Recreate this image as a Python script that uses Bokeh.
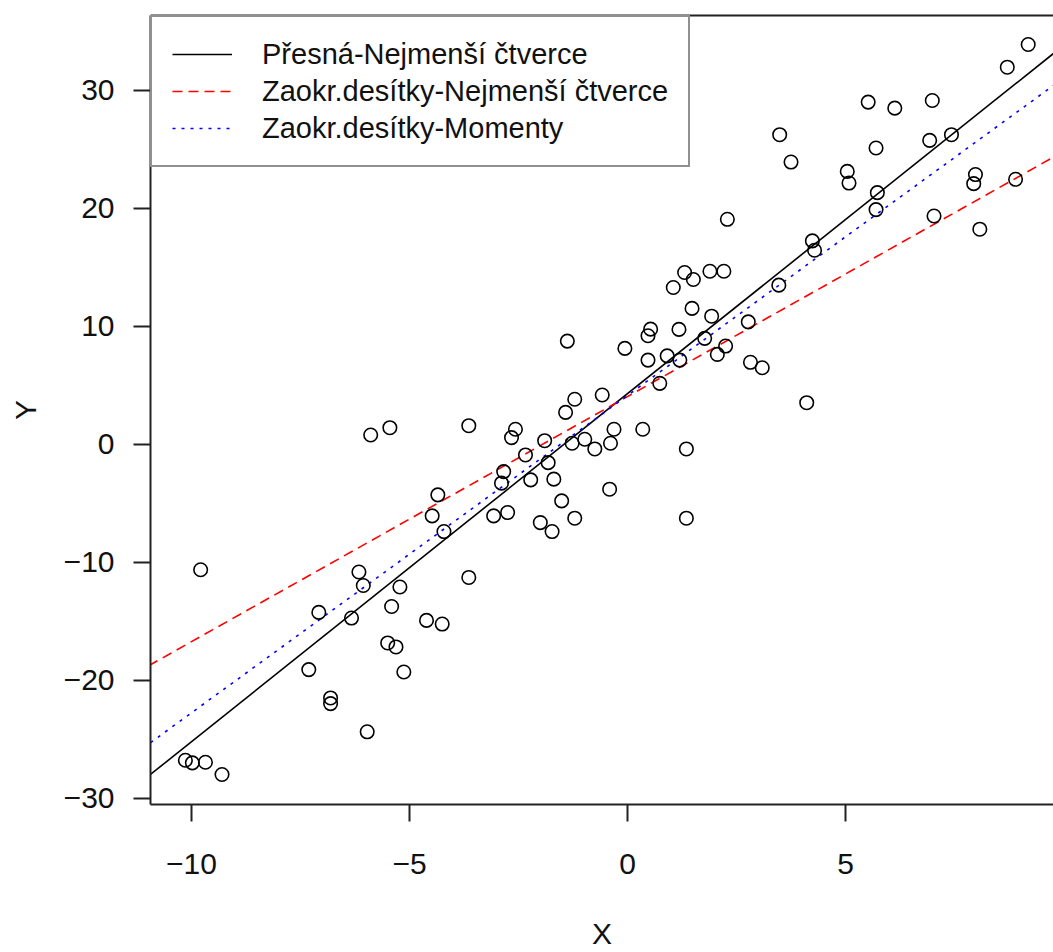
from bokeh.plotting import figure
from bokeh.models import FixedTicker, LinearAxis, Legend, LegendItem, Range1d, ColumnDataSource
from bokeh.embed import file_html
from bokeh.resources import INLINE

# ---- data ----
x_values = [-5.89, -5.45, -3.64, -4.35, -4.48, -3.07, -4.21, -9.79, -6.16, -6.06,
            -5.22, -3.64, -5.41, -7.08, -6.33, -4.61, -4.25, -5.50, -5.31, -7.31,
            -5.13, -6.81, -6.81, -5.97, -10.14, -9.98, -9.68, -9.30,
            2.29, 1.31, 1.51, 1.89, 2.21, 1.05, 3.47, 1.48, 1.93, 0.53,
            0.47, 1.18, -1.38, -0.06, 1.77, 2.77, 0.91, 0.47, 1.20, 2.25,
            2.06, 2.82, 3.09, 0.74, 4.11, -0.58, -1.21, -1.42, -2.57, -2.66,
            -0.31, 0.35, -1.90, -1.27, -0.98, -0.75, -0.39, 1.35, -2.34, -2.84,
            -2.89, -1.82, -2.22, -1.69, -0.41, -1.51, -2.75, -2.00, -1.73, -1.21,
            1.35,
            9.19, 8.71, 5.52, 6.13, 6.99, 3.49, 3.75, 6.93, 7.43, 5.70,
            5.04, 5.08, 5.73, 5.70, 7.98, 7.94, 8.90, 7.03, 8.08, 4.24, 4.29]
y_values = [0.80, 1.42, 1.59, -4.27, -6.05, -6.05, -7.38, -10.62, -10.81, -11.95,
            -12.08, -11.27, -13.73, -14.23, -14.71, -14.91, -15.22, -16.82, -17.16, -19.08,
            -19.28, -21.48, -21.96, -24.35, -26.76, -26.98, -26.93, -27.97,
            19.08, 14.57, 13.98, 14.68, 14.68, 13.30, 13.50, 11.53, 10.87, 9.77,
            9.21, 9.75, 8.76, 8.14, 8.99, 10.39, 7.51, 7.15, 7.15, 8.34,
            7.63, 6.96, 6.50, 5.18, 3.54, 4.19, 3.83, 2.72, 1.29, 0.58,
            1.29, 1.29, 0.32, 0.10, 0.44, -0.38, 0.10, -0.38, -0.89, -2.30,
            -3.28, -1.54, -3.00, -2.94, -3.79, -4.78, -5.77, -6.62, -7.38, -6.25,
            -6.25,
            33.89, 31.97, 29.01, 28.50, 29.15, 26.25, 23.93, 25.77, 26.25, 25.12,
            23.14, 22.15, 21.34, 19.90, 22.87, 22.10, 22.47, 19.36, 18.24, 17.25, 16.46]

line_names = ["Přesná-Nejmenší čtverce", "Zaokr.desítky-Nejmenší čtverce", "Zaokr.desítky-Momenty"]
line_intercepts = [4.31, 4.06, 4.15]
line_slopes = [2.950, 2.077, 2.689]
line_colors = ["#000000", "#FF0000", "#0000FF"]
line_dashes = ["solid", "10 6", "3 6"]

x_ticks = [-10, -5, 0, 5]
y_ticks = [-30, -20, -10, 0, 10, 20, 30]

X_MIN, X_MAX = -10.94, 9.77
Y_MIN, Y_MAX = -30.51, 36.35

FONT = "Liberation Sans"
AXIS_COL = "#222222"

p = figure(width=1053, height=952,
           x_range=Range1d(X_MIN, X_MAX), y_range=Range1d(Y_MIN, Y_MAX),
           output_backend="svg", toolbar_location=None,
           min_border_left=150, min_border_right=0, min_border_top=15, min_border_bottom=146,
           x_axis_label="X", y_axis_label="Y")
p.outline_line_color = None
p.grid.visible = False
p.background_fill_color = "white"
p.border_fill_color = "white"

p.xaxis.ticker = FixedTicker(ticks=x_ticks)
p.yaxis.ticker = FixedTicker(ticks=y_ticks)
for ax in (p.xaxis, p.yaxis):
    ax.axis_line_color = AXIS_COL
    ax.axis_line_width = 2
    ax.major_tick_line_color = AXIS_COL
    ax.major_tick_line_width = 2
    ax.major_tick_out = 17
    ax.major_tick_in = 0
    ax.minor_tick_line_color = None
    ax.major_label_text_font = FONT
    ax.major_label_text_font_size = "30px"
    ax.major_label_text_color = "#111111"
    ax.axis_label_text_font = FONT
    ax.axis_label_text_font_size = "30px"
    ax.axis_label_text_font_style = "normal"
    ax.axis_label_text_color = "#111111"
p.xaxis.major_label_standoff = 32
p.xaxis.axis_label_standoff = 40
p.yaxis.major_label_standoff = 19
p.yaxis.axis_label_standoff = 19

top_axis = LinearAxis(ticker=FixedTicker(ticks=[]), major_label_text_font_size="0px",
                      major_tick_out=0, major_tick_in=0, minor_tick_out=0, minor_tick_in=0,
                      major_label_standoff=0, axis_line_color=AXIS_COL, axis_line_width=2)
p.add_layout(top_axis, "above")

# regression lines from intercept/slope
items = []
for name, a, b, col, dash in zip(line_names, line_intercepts, line_slopes, line_colors, line_dashes):
    xs = [X_MIN - 1, X_MAX + 1]
    ys = [a + b * xv for xv in xs]
    r = p.line(xs, ys, line_color=col, line_width=1.6, line_dash=dash)
    items.append(LegendItem(label=name, renderers=[r]))

src = ColumnDataSource(data=dict(x=x_values, y=y_values))
p.scatter("x", "y", source=src, marker="circle", size=13.5, fill_color=None,
          line_color="#000000", line_width=1.6)

legend = Legend(items=items, location="top_left", margin=0, padding=20, spacing=3,
                label_height=34, glyph_height=34, glyph_width=60, label_standoff=30,
                label_text_font=FONT, label_text_font_size="29px", label_text_color="#111111",
                border_line_color="#222222", border_line_width=2,
                background_fill_color="white", background_fill_alpha=1.0)
p.add_layout(legend, "center")

open("out.html", "w").write(file_html(p, INLINE))
